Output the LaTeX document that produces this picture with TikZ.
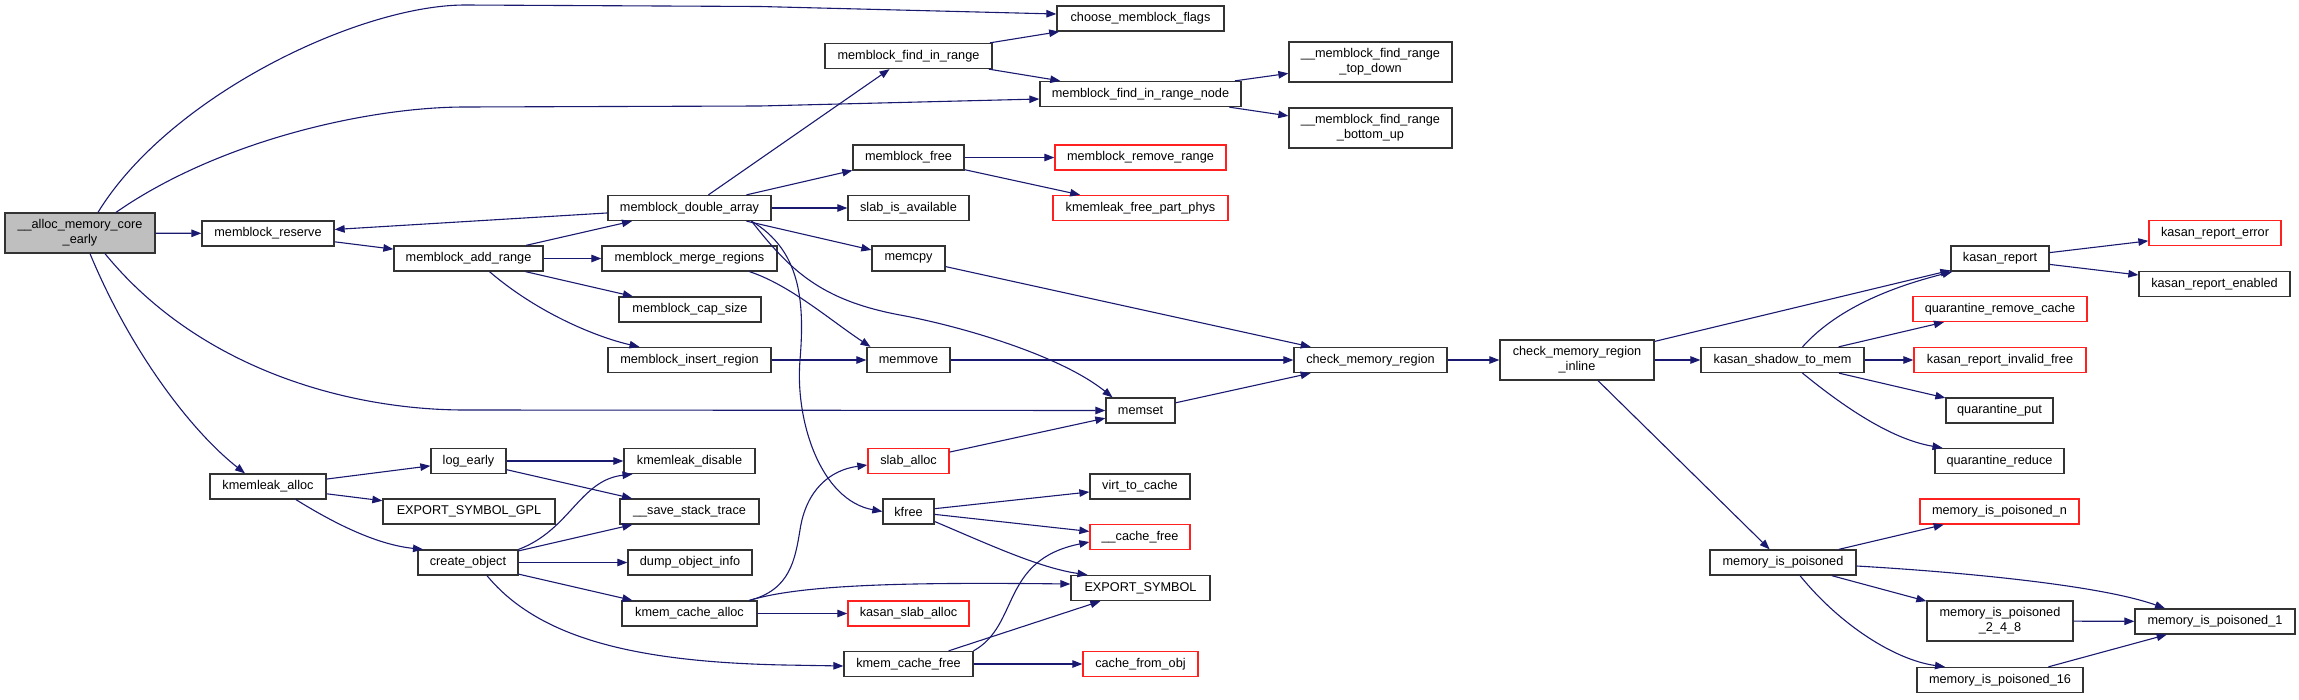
\documentclass[tikz,border=0pt]{standalone}
\usepackage{fontspec}
\setmainfont{Liberation Sans}
\usetikzlibrary{arrows.meta}
\definecolor{mblue}{HTML}{191970}
\definecolor{boxgray}{HTML}{BFBFBF}
\definecolor{redb}{HTML}{FF2020}
\tikzset{
  fn/.style={draw=black!80, line width=1.3pt, fill=white, inner sep=0pt, minimum height=25pt, font=\fontsize{12.7}{15}\selectfont, align=center},
  fnred/.style={fn, draw=redb},
  fntall/.style={fn, minimum height=40pt},
  edge/.style={draw=mblue, line width=1.1pt, -{Triangle[length=10pt,width=7.5pt]}},
}
\begin{document}
\begin{tikzpicture}[x=1pt,y=-1pt]
\useasboundingbox (0,0) rectangle (2299,699);
% nodes
\node[fntall, fill=boxgray, minimum width=150pt] (root) at (80,233) {\_\_alloc\_memory\_core\\\_early};
\node[fn, minimum width=132pt] (mreserve) at (268,233.5) {memblock\_reserve};
\node[fn, minimum width=149pt] (maddrange) at (468.5,258.5) {memblock\_add\_range};
\node[fn, minimum width=163pt] (mdouble) at (689.5,208) {memblock\_double\_array};
\node[fn, minimum width=175pt] (mmerge) at (689.5,258.5) {memblock\_merge\_regions};
\node[fn, minimum width=142pt] (mcap) at (690,309.5) {memblock\_cap\_size};
\node[fn, minimum width=163pt] (minsert) at (689.5,360) {memblock\_insert\_region};
\node[fn, minimum width=167pt] (choose) at (1140.5,18.5) {choose\_memblock\_flags};
\node[fn, minimum width=167pt] (mfind) at (908.5,56) {memblock\_find\_in\_range};
\node[fn, minimum width=201pt] (mfindnode) at (1140.5,94) {memblock\_find\_in\_range\_node};
\node[fntall, minimum width=163pt] (topdown) at (1370.5,62) {\_\_memblock\_find\_range\\\_top\_down};
\node[fntall, minimum width=163pt] (bottomup) at (1370.5,128) {\_\_memblock\_find\_range\\\_bottom\_up};
\node[fn, minimum width=111pt] (mfree) at (908.5,157.5) {memblock\_free};
\node[fnred, minimum width=171pt] (mremove) at (1140.5,157.5) {memblock\_remove\_range};
\node[fn, minimum width=121pt] (slabavail) at (908.5,208) {slab\_is\_available};
\node[fnred, minimum width=175pt] (kfpp) at (1140.5,208) {kmemleak\_free\_part\_phys};
\node[fn, minimum width=73pt] (memcpy) at (908.5,258.5) {memcpy};
\node[fn, minimum width=83pt] (memmove) at (908.5,360) {memmove};
\node[fn, minimum width=153pt] (cmr) at (1370.5,360) {check\_memory\_region};
\node[fn, minimum width=69pt] (memset) at (1140.5,410.5) {memset};
\node[fnred, minimum width=81pt] (slaballoc) at (908.5,461) {slab\_alloc};
\node[fn, minimum width=100pt] (virt) at (1140,486.5) {virt\_to\_cache};
\node[fn, minimum width=51pt] (kfree) at (908.5,511.5) {kfree};
\node[fnred, minimum width=100pt] (cachefree) at (1140,537) {\_\_cache\_free};
\node[fn, minimum width=139pt] (exportsym) at (1140.5,588) {EXPORT\_SYMBOL};
\node[fnred, minimum width=121pt] (kasanslab) at (908.5,613.5) {kasan\_slab\_alloc};
\node[fn, minimum width=129pt] (kmcfree) at (908.5,664) {kmem\_cache\_free};
\node[fnred, minimum width=115pt] (cachefromobj) at (1140.5,664) {cache\_from\_obj};
\node[fn, minimum width=116pt] (kmalloc) at (268,486.5) {kmemleak\_alloc};
\node[fn, minimum width=75pt] (logearly) at (468.5,461) {log\_early};
\node[fn, minimum width=172pt] (exportgpl) at (469,511.5) {EXPORT\_SYMBOL\_GPL};
\node[fn, minimum width=100pt] (createobj) at (468,562.5) {create\_object};
\node[fn, minimum width=131pt] (kmdisable) at (689.5,461) {kmemleak\_disable};
\node[fn, minimum width=139pt] (savestack) at (689.5,511.5) {\_\_save\_stack\_trace};
\node[fn, minimum width=124pt] (dumpobj) at (690,562.5) {dump\_object\_info};
\node[fn, minimum width=135pt] (kmcalloc) at (689.5,613.5) {kmem\_cache\_alloc};
\node[fntall, minimum width=154pt] (cmrinline) at (1577,360) {check\_memory\_region\\\_inline};
\node[fn, minimum width=98pt] (kasanreport) at (2000,258.5) {kasan\_report};
\node[fnred, minimum width=132pt] (kre) at (2215,233) {kasan\_report\_error};
\node[fn, minimum width=151pt] (kren) at (2214.5,284) {kasan\_report\_enabled};
\node[fnred, minimum width=174pt] (qrc) at (2000,309) {quarantine\_remove\_cache};
\node[fn, minimum width=163pt] (kstm) at (1782.5,360) {kasan\_shadow\_to\_mem};
\node[fnred, minimum width=172pt] (krif) at (2000,360) {kasan\_report\_invalid\_free};
\node[fn, minimum width=107pt] (qput) at (1999.5,410.5) {quarantine\_put};
\node[fn, minimum width=129pt] (qreduce) at (1999.5,461) {quarantine\_reduce};
\node[fnred, minimum width=159pt] (mipn) at (1999.5,511.5) {memory\_is\_poisoned\_n};
\node[fn, minimum width=146pt] (mip) at (1783,562.5) {memory\_is\_poisoned};
\node[fntall, minimum width=146pt] (mip248) at (2000,621) {memory\_is\_poisoned\\\_2\_4\_8};
\node[fn, minimum width=160pt] (mip1) at (2215,621.5) {memory\_is\_poisoned\_1};
\node[fn, minimum width=166pt] (mip16) at (2000,680) {memory\_is\_poisoned\_16};
% edges
\draw[edge] ([xshift=18pt]root.north) .. controls (170,95) and (360,5) .. (465,5) -- (760,6.5) -- ([yshift=4.5pt]choose.west);
\draw[edge] ([xshift=36pt]root.north) .. controls (220,140) and (370,107) .. (465,107) -- (760,106) -- ([yshift=-5pt]mfindnode.west);
\draw[edge] (root) -- (mreserve);
\draw[edge] ([xshift=25pt]root.south) .. controls (200,370) and (350,410) .. (465,410) -- (memset.west);
\draw[edge] ([xshift=10pt]root.south) .. controls (130,350) and (190,430) .. ([xshift=-23pt]kmalloc.north);
\draw[edge] (mreserve) -- (maddrange);
\draw[edge] (mdouble) -- (mreserve);
\draw[edge] (maddrange) -- (mdouble);
\draw[edge] (maddrange) -- (mmerge);
\draw[edge] (maddrange) -- (mcap);
\draw[edge] ([xshift=21pt]maddrange.south) .. controls (540,315) and (600,338) .. ([xshift=-50pt]minsert.north);
\draw[edge] (mdouble) -- (mfind);
\draw[edge] (mdouble) -- (mfree);
\draw[edge] (mdouble) -- (slabavail);
\draw[edge] (mdouble) -- (memcpy);
\draw[edge] ([xshift=62pt]mdouble.south) .. controls (790,270) and (820,300) .. (900,315) .. controls (960,326) and (1060,355) .. ([xshift=-28pt]memset.north);
\draw[edge] ([xshift=62pt]mdouble.south) .. controls (800,250) and (805,300) .. (800,360) .. controls (795,420) and (820,500) .. (kfree.west);
\draw[edge] ([xshift=60pt]mmerge.south) .. controls (790,285) and (830,320) .. ([xshift=-38pt]memmove.north);
\draw[edge] (minsert) -- (memmove);
\draw[edge] (mfind) -- (choose);
\draw[edge] (mfind) -- (mfindnode);
\draw[edge] (mfindnode) -- (topdown);
\draw[edge] (mfindnode) -- (bottomup);
\draw[edge] (mfree) -- (mremove);
\draw[edge] (mfree) -- (kfpp);
\draw[edge] (memcpy) -- (cmr);
\draw[edge] (memmove) -- (cmr);
\draw[edge] (memset) -- (cmr);
\draw[edge] (cmr) -- (cmrinline);
\draw[edge] (cmrinline) -- (kasanreport);
\draw[edge] (cmrinline) -- (kstm);
\draw[edge] (cmrinline) -- (mip);
\draw[edge] ([xshift=20pt]kstm.north) .. controls (1840,305) and (1900,285) .. ([xshift=2pt]kasanreport.south west);
\draw[edge] (kstm) -- (qrc);
\draw[edge] (kstm) -- (krif);
\draw[edge] (kstm) -- (qput);
\draw[edge] ([xshift=20pt]kstm.south) .. controls (1850,412) and (1895,440) .. ([xshift=-57pt]qreduce.north);
\draw[edge] (kasanreport) -- (kre);
\draw[edge] (kasanreport) -- (kren);
\draw[edge] (mip) -- (mipn);
\draw[edge] ([yshift=-3.5pt]mip.east) .. controls (1960,572) and (2100,585) .. ([xshift=-50pt]mip1.north);
\draw[edge] (mip) -- (mip248);
\draw[edge] ([xshift=17pt]mip.south) .. controls (1840,625) and (1895,660) .. ([xshift=-55pt]mip16.north);
\draw[edge] (mip248) -- (mip1);
\draw[edge] (mip16) -- (mip1);
\draw[edge] (kmalloc) -- (logearly);
\draw[edge] (kmalloc) -- (exportgpl);
\draw[edge] ([xshift=28pt]kmalloc.south) .. controls (340,527) and (380,545) .. ([xshift=-45pt]createobj.north);
\draw[edge] (logearly) -- (kmdisable);
\draw[edge] (logearly) -- (savestack);
\draw[edge] (createobj.north east) .. controls (570,530) and (580,480) .. ([xshift=-57pt]kmdisable.south);
\draw[edge] (createobj) -- (savestack);
\draw[edge] (createobj) -- (dumpobj);
\draw[edge] (createobj) -- (kmcalloc);
\draw[edge] ([xshift=19pt]createobj.south) .. controls (540,640) and (640,662) .. (784,665) -- ([yshift=-2pt]kmcfree.west);
\draw[edge] ([xshift=60pt]kmcalloc.north) .. controls (790,590) and (795,560) .. (800,530) .. controls (806,490) and (830,470) .. ([yshift=-4pt]slaballoc.west);
\draw[edge] ([xshift=60pt]kmcalloc.north) .. controls (800,585) and (900,582) .. ([yshift=4pt]exportsym.west);
\draw[edge] (kmcalloc) -- (kasanslab);
\draw[edge] (slaballoc) -- (memset);
\draw[edge] (kfree) -- (virt);
\draw[edge] (kfree) -- (cachefree);
\draw[edge] ([yshift=-10pt]kfree.east) .. controls (990,545) and (1040,568) .. ([xshift=-53pt]exportsym.north);
\draw[edge] ([xshift=65pt]kmcfree.north) .. controls (1020,625) and (1000,560) .. ([yshift=-5pt]cachefree.west);
\draw[edge] (kmcfree) -- (exportsym);
\draw[edge] (kmcfree) -- (cachefromobj);
\end{tikzpicture}
\end{document}
